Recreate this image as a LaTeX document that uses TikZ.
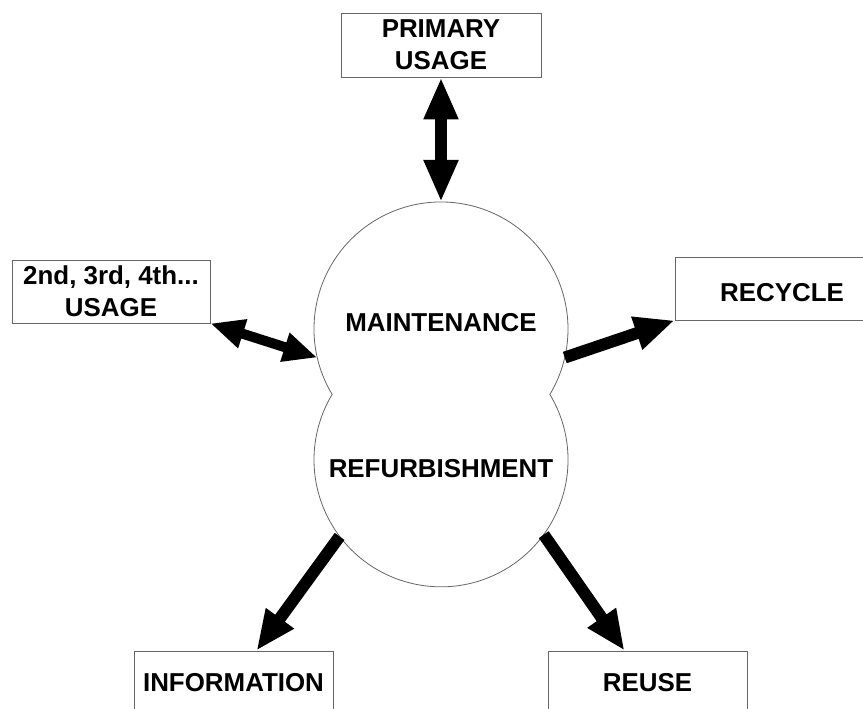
\documentclass[tikz,border=0pt]{standalone}
\usepackage{fontspec}
\setmainfont{Liberation Sans}
\usetikzlibrary{positioning,arrows.meta}
\tikzset{
box/.style={rectangle, draw=black!60, line width=0.8bp, inner sep=0pt, align=center,
            font=\bfseries\fontsize{26}{32}\selectfont},
blob/.style={circle, inner sep=0pt, outer sep=0pt, minimum size=254bp},
label/.style={font=\bfseries\fontsize{26}{32}\selectfont},
tip/.style={Triangle[width=32bp,length=40bp]},
smalltip/.style={Triangle[width=28bp,length=34bp]},
oneway/.style={line width=12bp, -{Triangle[width=32bp,length=40bp]}},
twoway/.style={line width=12bp, {Triangle[width=32bp,length=42bp]}-{Triangle[width=32bp,length=42bp]}},
twowaysmall/.style={line width=10bp, {Triangle[width=28bp,length=34bp]}-{Triangle[width=28bp,length=34bp]}},
}

\begin{document}
\begin{tikzpicture}[x=1bp, y=1bp]

    \useasboundingbox (0,0) rectangle (863,709);

    \node[blob] (maint) at (441,380) {};
    \node[blob] (refurb) at (441,249) {};

    \draw[draw=black!60, line width=0.8bp, fill=white]
        (maint.211) arc[start angle=211, end angle=-31, radius=127bp]
        arc[start angle=31, end angle=-211, radius=127bp] -- cycle;

    \node[label] (mtext) at (441,386) {MAINTENANCE};
    \node[label] (rtext) at (441,240) {REFURBISHMENT};

    \node[box, minimum width=200bp, minimum height=64bp] (primary) at (441,664) {PRIMARY\\USAGE};
    \node[box, minimum width=198bp, minimum height=63bp] (second) at (111,417.5) {2nd, 3rd, 4th...\\USAGE};
    \node[box, minimum width=188bp, minimum height=63bp] (recycle) at (769,420.5) {};
    \node[label] (rectext) at (782,416) {RECYCLE};
    \node[box, minimum width=199bp, minimum height=64bp] (info) at (233.5,26) {INFORMATION};
    \node[box, minimum width=199bp, minimum height=64bp] (reuse) at (647.5,26) {REUSE};

    \draw[twoway] (primary.south) to (maint.north);
    \draw[twowaysmall] (second.south east) to (maint.193);
    \draw[oneway] (maint.347) to (recycle.south west);
    \draw[oneway] (refurb.217) to ([xshift=23bp]info.north);
    \draw[oneway] (refurb.324) to ([xshift=-23bp]reuse.north);

\end{tikzpicture}
\end{document}
